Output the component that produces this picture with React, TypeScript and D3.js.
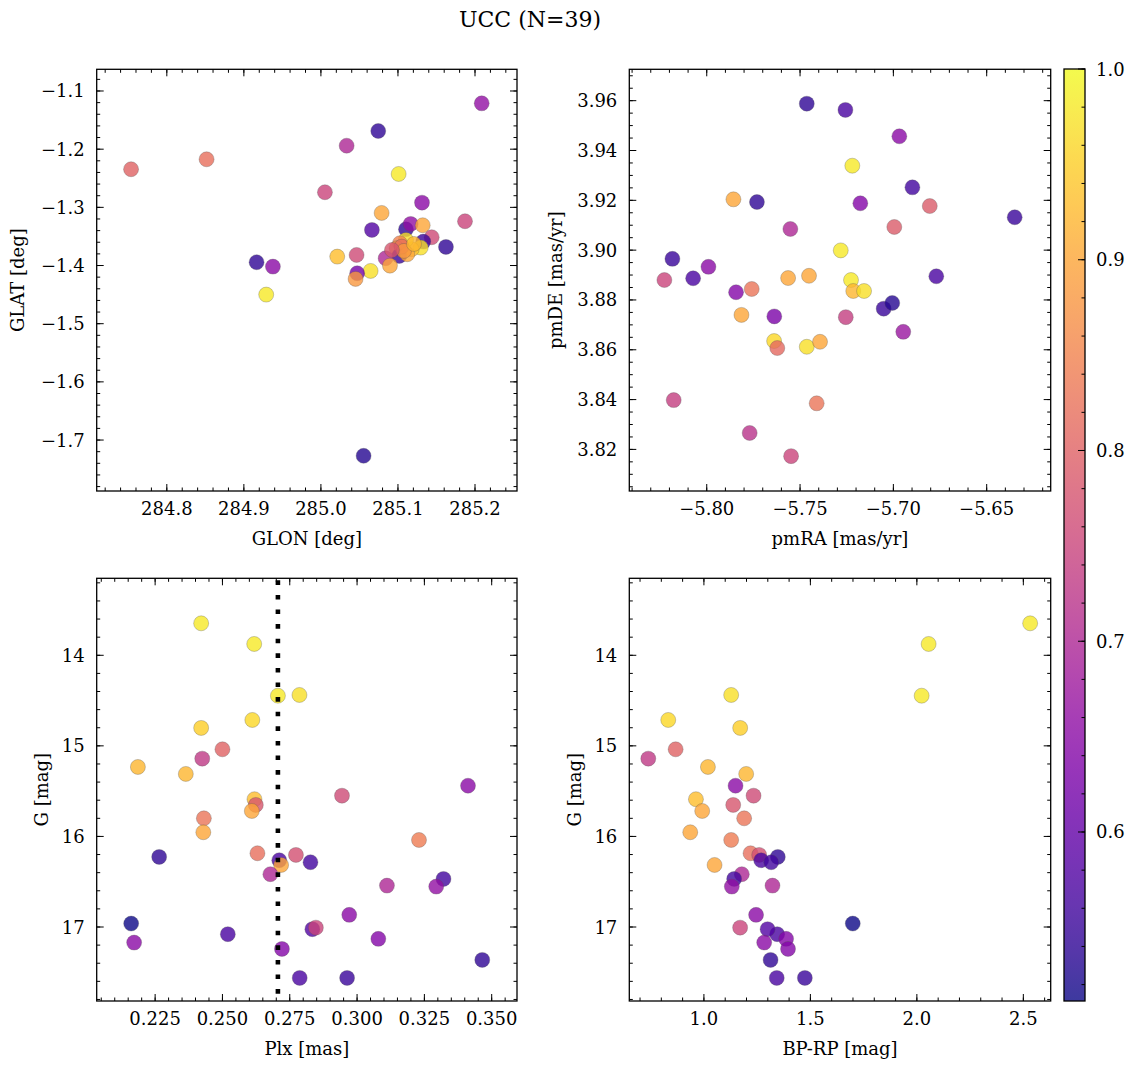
import React from 'react';
import * as d3 from 'd3';

const TITLE = 'UCC (N=39)';
const FONT = '"DejaVu Serif", "Liberation Serif", serif';

// Panel 1: sky positions
const glon = [284.7536, 284.8516, 285.2087, 285.0744, 285.0334, 285.1009, 285.0052, 285.1312, 285.0788, 285.187, 285.0662, 285.1104, 285.1165, 285.1321, 285.1438, 285.1329, 285.1623, 285.1295, 285.1178, 285.1104, 285.1026, 285.0983, 285.1017, 285.1121, 285.084, 285.0896, 285.0463, 285.0212, 285.0645, 285.0471, 285.045, 284.9165, 284.9377, 284.929, 285.0554, 285.1048, 285.1078, 285.1208, 285.0922];
const glat = [-1.2345, -1.2174, -1.1212, -1.1687, -1.194, -1.2426, -1.274, -1.2919, -1.3096, -1.3239, -1.3388, -1.3377, -1.3285, -1.3308, -1.3514, -1.3589, -1.368, -1.3692, -1.372, -1.356, -1.3617, -1.3703, -1.3835, -1.3806, -1.3875, -1.4002, -1.3818, -1.3847, -1.4093, -1.4133, -1.423, -1.3944, -1.4019, -1.45, -1.7271, -1.3675, -1.3749, -1.3629, -1.3732];
const probSky = [0.80, 0.82, 0.66, 0.54, 0.70, 0.98, 0.75, 0.65, 0.90, 0.75, 0.58, 0.54, 0.66, 0.90, 0.76, 0.55, 0.54, 0.97, 0.93, 0.97, 0.85, 0.87, 0.55, 0.90, 0.70, 0.90, 0.76, 0.93, 0.97, 0.62, 0.88, 0.54, 0.65, 0.98, 0.53, 0.82, 0.88, 0.92, 0.78];

// Panel 2: proper motions
const pmra = [-5.7464, -5.7257, -5.6968, -5.722, -5.6898, -5.7857, -5.7731, -5.7177, -5.6805, -5.635, -5.6995, -5.7552, -5.7282, -5.8184, -5.7991, -5.8227, -5.8073, -5.677, -5.7564, -5.7452, -5.7227, -5.7215, -5.7157, -5.7843, -5.7759, -5.7814, -5.7638, -5.7255, -5.7052, -5.7006, -5.6947, -5.7639, -5.7622, -5.7464, -5.7393, -5.8177, -5.7411, -5.777, -5.7548];
const pmde = [3.9588, 3.9563, 3.9457, 3.9339, 3.9252, 3.9204, 3.9193, 3.9188, 3.9177, 3.9132, 3.9093, 3.9085, 3.8999, 3.8965, 3.8933, 3.888, 3.8887, 3.8895, 3.8888, 3.8897, 3.888, 3.8836, 3.8836, 3.8831, 3.8844, 3.874, 3.8734, 3.8731, 3.8765, 3.8788, 3.8672, 3.8635, 3.8607, 3.8612, 3.8632, 3.8398, 3.8385, 3.8266, 3.8173];
const probPm = [0.54, 0.57, 0.65, 0.98, 0.56, 0.90, 0.54, 0.64, 0.79, 0.55, 0.79, 0.70, 0.98, 0.55, 0.65, 0.75, 0.57, 0.57, 0.90, 0.90, 0.98, 0.92, 0.97, 0.64, 0.83, 0.90, 0.63, 0.74, 0.55, 0.53, 0.67, 0.96, 0.81, 0.97, 0.90, 0.74, 0.83, 0.72, 0.75];

// Panels 3 & 4: photometry and parallax
const gmag = [13.647, 13.875, 14.446, 14.438, 14.714, 14.802, 15.038, 15.141, 15.233, 15.31, 15.44, 15.55, 15.589, 15.652, 15.719, 15.8, 15.954, 16.039, 16.186, 16.204, 16.226, 16.263, 16.315, 16.285, 16.417, 16.543, 16.469, 16.554, 16.962, 16.866, 17.079, 17.024, 17.007, 17.131, 17.172, 17.242, 17.363, 17.562, 17.562];
const plx = [0.2421, 0.2618, 0.2706, 0.2786, 0.2611, 0.2421, 0.25, 0.2425, 0.2186, 0.2364, 0.3412, 0.2944, 0.2619, 0.2624, 0.2609, 0.2431, 0.2429, 0.323, 0.263, 0.2773, 0.2265, 0.2711, 0.2718, 0.2827, 0.2678, 0.3111, 0.3321, 0.3294, 0.2161, 0.2971, 0.252, 0.2834, 0.2847, 0.3079, 0.2172, 0.2721, 0.3465, 0.2787, 0.2963];
const bprp = [2.532, 2.0553, 2.0225, 1.128, 0.8325, 1.1703, 0.8672, 0.7387, 1.0188, 1.1985, 1.1485, 1.2331, 0.9625, 1.1376, 0.992, 1.189, 0.9358, 1.128, 1.219, 1.2595, 1.347, 1.269, 1.05, 1.316, 1.178, 1.322, 1.142, 1.131, 1.699, 1.245, 1.344, 1.299, 1.17, 1.386, 1.283, 1.395, 1.313, 1.342, 1.474];
const probPhot = [0.98, 0.98, 0.98, 0.97, 0.96, 0.95, 0.80, 0.73, 0.92, 0.92, 0.65, 0.76, 0.93, 0.78, 0.90, 0.83, 0.90, 0.84, 0.82, 0.77, 0.54, 0.57, 0.90, 0.56, 0.70, 0.70, 0.56, 0.66, 0.512, 0.65, 0.57, 0.58, 0.75, 0.64, 0.65, 0.64, 0.54, 0.57, 0.55];

const plxLine = 0.2706;

// Tick labels
const ticksGlon = [284.8, 284.9, 285.0, 285.1, 285.2];
const ticksGlat = [-1.1, -1.2, -1.3, -1.4, -1.5, -1.6, -1.7];
const ticksPmra = [-5.8, -5.75, -5.7, -5.65];
const ticksPmde = [3.82, 3.84, 3.86, 3.88, 3.9, 3.92, 3.94, 3.96];
const ticksPlx = [0.225, 0.25, 0.275, 0.3, 0.325, 0.35];
const ticksG = [14, 15, 16, 17];
const ticksBprp = [1.0, 1.5, 2.0, 2.5];
const ticksCbar = [0.6, 0.7, 0.8, 0.9, 1.0];

const VMIN = 0.5114, VMAX = 1.0;
const color = d3.scaleSequential(d3.interpolatePlasma).domain([VMIN, VMAX]);

const FS = 18;

function minorTicks(domain: number[], step: number) {
  const lo = Math.min(domain[0], domain[1]);
  const hi = Math.max(domain[0], domain[1]);
  const out: number[] = [];
  const i0 = Math.ceil(lo / step - 1e-9);
  const i1 = Math.floor(hi / step + 1e-9);
  for (let i = i0; i <= i1; i++) out.push(+(i * step).toFixed(6));
  return out;
}

type PanelProps = {
  id: string;
  x0: number; x1: number; y0: number; y1: number;
  xDomain: number[]; yDomain: number[];
  xMajor: number[]; yMajor: number[];
  xMinorStep: number; yMinorStep: number;
  xFmt: (v: number) => string; yFmt: (v: number) => string;
  xs: number[]; ys: number[]; probs: number[];
  xLabel: string; yLabel: string; yLabelX: number;
  vline?: number;
};

function Panel(p: PanelProps) {
  const x = d3.scaleLinear().domain(p.xDomain).range([p.x0, p.x1]);
  const y = d3.scaleLinear().domain(p.yDomain).range([p.y1, p.y0]);
  const xMinor = minorTicks(p.xDomain, p.xMinorStep);
  const yMinor = minorTicks(p.yDomain, p.yMinorStep);
  const MJ = 7, MN = 3.5;
  const tickEls: any[] = [];
  xMinor.forEach((v, i) => {
    const px = x(v);
    tickEls.push(<line key={'xm' + i} x1={px} x2={px} y1={p.y1} y2={p.y1 - MN} />);
    tickEls.push(<line key={'xmt' + i} x1={px} x2={px} y1={p.y0} y2={p.y0 + MN} />);
  });
  yMinor.forEach((v, i) => {
    const py = y(v);
    tickEls.push(<line key={'ym' + i} x1={p.x0} x2={p.x0 + MN} y1={py} y2={py} />);
    tickEls.push(<line key={'ymr' + i} x1={p.x1} x2={p.x1 - MN} y1={py} y2={py} />);
  });
  p.xMajor.forEach((v, i) => {
    const px = x(v);
    tickEls.push(<line key={'xM' + i} x1={px} x2={px} y1={p.y1} y2={p.y1 - MJ} />);
    tickEls.push(<line key={'xMt' + i} x1={px} x2={px} y1={p.y0} y2={p.y0 + MJ} />);
  });
  p.yMajor.forEach((v, i) => {
    const py = y(v);
    tickEls.push(<line key={'yM' + i} x1={p.x0} x2={p.x0 + MJ} y1={py} y2={py} />);
    tickEls.push(<line key={'yMr' + i} x1={p.x1} x2={p.x1 - MJ} y1={py} y2={py} />);
  });
  const cx = (p.x0 + p.x1) / 2;
  const cy = (p.y0 + p.y1) / 2;
  return (
    <g>
      <defs>
        <clipPath id={'clip-' + p.id}>
          <rect x={p.x0} y={p.y0} width={p.x1 - p.x0} height={p.y1 - p.y0} />
        </clipPath>
      </defs>
      <g clipPath={`url(#clip-${p.id})`}>
        {p.xs.map((v, i) => (
          <circle key={i} cx={x(v)} cy={y(p.ys[i])} r={7.5}
            fill={color(p.probs[i])} fillOpacity={0.8}
            stroke="#555" strokeOpacity={0.6} strokeWidth={0.5} />
        ))}
        {p.vline !== undefined && (
          <line x1={x(p.vline)} x2={x(p.vline)} y1={p.y0 + 2} y2={p.y1}
            stroke="#000" strokeWidth={4.6} strokeDasharray="4.6 10" />
        )}
      </g>
      <g stroke="#000" strokeWidth={1}>{tickEls}</g>
      <rect x={p.x0} y={p.y0} width={p.x1 - p.x0} height={p.y1 - p.y0}
        fill="none" stroke="#000" strokeWidth={1.3} />
      <g fontFamily={FONT} fontSize={FS} fill="#000">
        {p.xMajor.map((v, i) => (
          <text key={'xl' + i} x={x(v)} y={p.y1 + 24} textAnchor="middle">{p.xFmt(v)}</text>
        ))}
        {p.yMajor.map((v, i) => (
          <text key={'yl' + i} x={p.x0 - 12} y={y(v) + 6.5} textAnchor="end">{p.yFmt(v)}</text>
        ))}
        <text x={cx} y={p.y1 + 54} textAnchor="middle">{p.xLabel}</text>
        <text transform={`translate(${p.yLabelX},${cy}) rotate(-90)`} textAnchor="middle">{p.yLabel}</text>
      </g>
    </g>
  );
}

function Colorbar({ x0, x1, y0, y1 }: { x0: number; x1: number; y0: number; y1: number }) {
  const s = d3.scaleLinear().domain([VMIN, VMAX]).range([y1, y0]);
  const stops = d3.range(0, 1.0001, 0.05);
  const minor = minorTicks([VMIN, VMAX], 0.02);
  return (
    <g>
      <defs>
        <linearGradient id="cbar" x1="0" y1="1" x2="0" y2="0">
          {stops.map((t, i) => (
            <stop key={i} offset={t} stopColor={d3.interpolatePlasma(t)} />
          ))}
        </linearGradient>
      </defs>
      <rect x={x0} y={y0} width={x1 - x0} height={y1 - y0} fill="url(#cbar)" fillOpacity={0.8} />
      <g stroke="#000" strokeWidth={1}>
        {minor.map((v, i) => (
          <line key={'m' + i} x1={x1} x2={x1 - 3.5} y1={s(v)} y2={s(v)} />
        ))}
        {ticksCbar.map((v, i) => (
          <line key={'M' + i} x1={x1} x2={x1 - 7} y1={s(v)} y2={s(v)} />
        ))}
      </g>
      <rect x={x0} y={y0} width={x1 - x0} height={y1 - y0} fill="none" stroke="#000" strokeWidth={1.3} />
      <g fontFamily={FONT} fontSize={FS} fill="#000">
        {ticksCbar.map((v, i) => (
          <text key={i} x={x1 + 11} y={s(v) + 6.5}>{d3.format('.1f')(v)}</text>
        ))}
      </g>
    </g>
  );
}

export default function App() {
  const f1 = d3.format('.1f');
  const f2 = d3.format('.2f');
  const f3 = d3.format('.3f');
  const f0 = d3.format('d');
  const L1 = 96.7, R1 = 517, L2 = 629.3, R2 = 1050.7;
  const T1 = 69.3, B1 = 491, T2 = 578.3, B2 = 1001;
  const yG = [17.817, 13.15];
  return (
    <svg width={1136} height={1068} style={{ position: 'absolute', left: 0, top: 0, background: '#fff' }}>
      <rect x={0} y={0} width={1136} height={1068} fill="#fff" />
      <text x={530} y={27} textAnchor="middle" fontFamily={FONT} fontSize={22}>{TITLE}</text>
      <Panel id="p1" x0={L1} x1={R1} y0={T1} y1={B1}
        xDomain={[284.709, 285.2545]} yDomain={[-1.7876, -1.0627]}
        xMajor={ticksGlon} yMajor={ticksGlat} xMinorStep={0.02} yMinorStep={0.02}
        xFmt={f1} yFmt={f1} xs={glon} ys={glat} probs={probSky}
        xLabel="GLON [deg]" yLabel="GLAT [deg]" yLabelX={24} />
      <Panel id="p2" x0={L2} x1={R2} y0={T1} y1={B1}
        xDomain={[-5.8415, -5.6157]} yDomain={[3.8033, 3.9726]}
        xMajor={ticksPmra} yMajor={ticksPmde} xMinorStep={0.01} yMinorStep={0.005}
        xFmt={f2} yFmt={f2} xs={pmra} ys={pmde} probs={probPm}
        xLabel="pmRA [mas/yr]" yLabel="pmDE [mas/yr]" yLabelX={562} />
      <Panel id="p3" x0={L1} x1={R1} y0={T2} y1={B2}
        xDomain={[0.2033, 0.3594]} yDomain={yG}
        xMajor={ticksPlx} yMajor={ticksG} xMinorStep={0.005} yMinorStep={0.2}
        xFmt={f3} yFmt={f0} xs={plx} ys={gmag} probs={probPhot}
        xLabel="Plx [mas]" yLabel="G [mag]" yLabelX={48} vline={plxLine} />
      <Panel id="p4" x0={L2} x1={R2} y0={T2} y1={B2}
        xDomain={[0.6496, 2.6285]} yDomain={yG}
        xMajor={ticksBprp} yMajor={ticksG} xMinorStep={0.1} yMinorStep={0.2}
        xFmt={f1} yFmt={f0} xs={bprp} ys={gmag} probs={probPhot}
        xLabel="BP-RP [mag]" yLabel="G [mag]" yLabelX={581} />
      <Colorbar x0={1064} x1={1085} y0={69} y1={1001} />
    </svg>
  );
}
